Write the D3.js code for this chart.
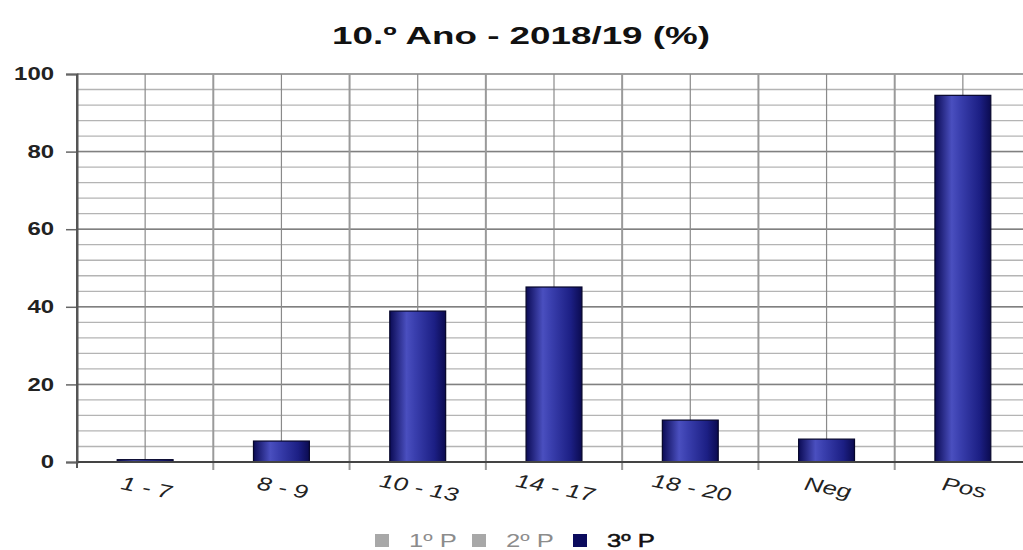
<!DOCTYPE html>
<html>
<head>
<meta charset="utf-8">
<script src="https://cdn.jsdelivr.net/npm/d3@7"></script>
<style>
  body { margin: 0; background: #fff; }
  svg { display: block; font-family: "Liberation Sans", Arial, sans-serif; }
</style>
</head>
<body>
<div id="chart"></div>
<script>
// data
var categories = ["1 - 7", "8 - 9", "10 - 13", "14 - 17", "18 - 20", "Neg", "Pos"];
var values3P = [0.6, 5.4, 38.9, 45.1, 10.8, 5.9, 94.5];
var yTicks = [0, 20, 40, 60, 80, 100];
var legendLabels = ["1º P", "2º P", "3º P"];
var legendColors = ["#a8a8a8", "#a8a8a8", "#0c0c5e"];
var legendTextColors = ["#8c8c8c", "#8c8c8c", "#111"];

var svgWidth = 1023;
var svgHeight = 550;
var margin = {top: 74, left: 77, right: -8, bottom: 88};

var chartWidth = svgWidth - margin.left - margin.right;
var chartHeight = svgHeight - margin.top - margin.bottom;

var svg = d3.select("#chart").append("svg")
    .attr("width", svgWidth)
    .attr("height", svgHeight);

// bar gradient (cylinder look)
var defs = svg.append("defs");
var grad = defs.append("linearGradient").attr("id", "barGrad")
    .attr("x1", "0%").attr("x2", "100%").attr("y1", "0%").attr("y2", "0%");
grad.append("stop").attr("offset", "0%").attr("stop-color", "#0b0b55");
grad.append("stop").attr("offset", "30%").attr("stop-color", "#4a4fbf");
grad.append("stop").attr("offset", "45%").attr("stop-color", "#3a3fae");
grad.append("stop").attr("offset", "80%").attr("stop-color", "#1c1f84");
grad.append("stop").attr("offset", "100%").attr("stop-color", "#0b0b50");

var chartGroup = svg.append("g").attr("transform", `translate(${margin.left},${margin.top})`);

var xScale = d3.scaleBand().domain(categories).range([0, chartWidth]).padding(0);
var yScale = d3.scaleLinear().domain([0, 100]).range([chartHeight, 0]);

// horizontal grid, minor every 4
var minor = d3.range(4, 100, 4);
chartGroup.append("g").selectAll("line")
    .data(minor)
    .enter().append("line")
    .attr("x1", 0).attr("x2", chartWidth)
    .attr("y1", d => yScale(d)).attr("y2", d => yScale(d))
    .attr("stroke", "#b4b4b4").attr("stroke-width", 1.3);

chartGroup.append("g").selectAll("line")
    .data(yTicks.filter(d => d > 0))
    .enter().append("line")
    .attr("x1", 0).attr("x2", chartWidth)
    .attr("y1", d => yScale(d)).attr("y2", d => yScale(d))
    .attr("stroke", "#808080").attr("stroke-width", 1.5);

// vertical grid: category centres and boundaries
chartGroup.append("g").selectAll("line")
    .data(categories)
    .enter().append("line")
    .attr("x1", d => xScale(d) + xScale.bandwidth() / 2)
    .attr("x2", d => xScale(d) + xScale.bandwidth() / 2)
    .attr("y1", 0).attr("y2", chartHeight)
    .attr("stroke", "#8a8a8a").attr("stroke-width", 1.2);

chartGroup.append("g").selectAll("line")
    .data(categories.slice(1))
    .enter().append("line")
    .attr("x1", d => xScale(d)).attr("x2", d => xScale(d))
    .attr("y1", 0).attr("y2", chartHeight + 8)
    .attr("stroke", "#9a9a9a").attr("stroke-width", 2);

// bars
var barW = xScale.bandwidth() * 0.41;
chartGroup.selectAll("rect.bar")
    .data(values3P)
    .enter().append("rect")
    .attr("class", "bar")
    .attr("x", (d, i) => xScale(categories[i]) + (xScale.bandwidth() - barW) / 2)
    .attr("y", d => yScale(d))
    .attr("width", barW)
    .attr("height", d => chartHeight - yScale(d))
    .attr("fill", "url(#barGrad)")
    .attr("stroke", "#05052a")
    .attr("stroke-width", 1.2);

// y axis
var leftAxis = d3.axisLeft(yScale).tickValues(yTicks).tickSize(11).tickPadding(9).tickFormat(d3.format("d"));
var yAxis = chartGroup.append("g").call(leftAxis);
yAxis.select(".domain").attr("stroke", "#555").attr("stroke-width", 2);
yAxis.selectAll(".tick line").attr("stroke", "#666").attr("stroke-width", 1.5);
yAxis.selectAll(".tick text")
    .attr("font-size", 18)
    .attr("font-weight", "bold")
    .attr("fill", "#222")
    .attr("transform", "translate(-3,0) scale(1.33,1)")
    .attr("x", -20 / 1.33);

// baseline
chartGroup.append("line")
    .attr("x1", 0).attr("x2", chartWidth)
    .attr("y1", chartHeight).attr("y2", chartHeight)
    .attr("stroke", "#444").attr("stroke-width", 2);
chartGroup.append("line")
    .attr("x1", 0).attr("x2", 0)
    .attr("y1", 0).attr("y2", chartHeight + 6)
    .attr("stroke", "#555").attr("stroke-width", 2);

// x labels
chartGroup.append("g").selectAll("text")
    .data(categories)
    .enter().append("text")
    .attr("transform", d => `translate(${xScale(d) + xScale.bandwidth() / 2},${chartHeight + 32}) rotate(11) scale(1.35,1)`)
    .attr("text-anchor", "middle")
    .attr("font-size", 19)
    .attr("font-style", "italic")
    .attr("fill", "#222")
    .text(d => d);

// title
svg.append("text")
    .attr("x", 521).attr("y", 44)
    .attr("text-anchor", "middle")
    .attr("font-size", 24)
    .attr("font-weight", "bold")
    .attr("fill", "#111")
    .attr("textLength", 378)
    .attr("lengthAdjust", "spacingAndGlyphs")
    .text("10.º Ano - 2018/19 (%)");

// legend
var legendX = [375, 472, 573];
var legend = svg.append("g");
legendLabels.forEach(function(lbl, i) {
    legend.append("rect")
        .attr("x", legendX[i]).attr("y", 534)
        .attr("width", 14).attr("height", 13)
        .attr("fill", legendColors[i]);
    legend.append("text")
        .attr("transform", `translate(${legendX[i] + 34},547) scale(1.35,1)`)
        .attr("font-size", 19)
        .attr("fill", legendTextColors[i])
        .attr("stroke", i === 2 ? "#111" : "none")
        .attr("stroke-width", 0.5)
        .text(lbl);
});
</script>
</body>
</html>
